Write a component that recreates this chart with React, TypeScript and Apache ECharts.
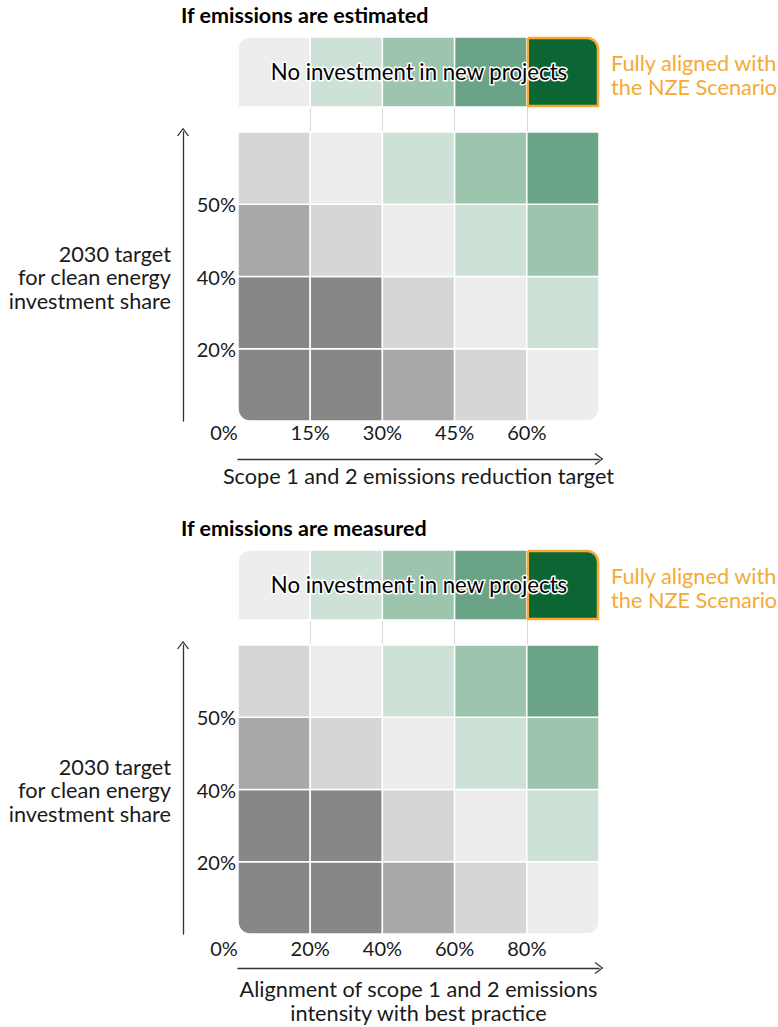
import React, { useEffect, useRef } from "react";
import * as echarts from "echarts";

// ---------- data ----------
const xTicksEstimated = ["0%", "15%", "30%", "45%", "60%"];
const xTicksMeasured = ["0%", "20%", "40%", "60%", "80%"];
const yTicks = ["", "20%", "40%", "50%"];
// colour level of each cell; rows listed bottom -> top, columns left -> right
const gridRow0 = [0, 0, 1, 2, 3];
const gridRow1 = [0, 0, 2, 3, 4];
const gridRow2 = [1, 2, 3, 4, 5];
const gridRow3 = [2, 3, 4, 5, 6];
const gridRows = [gridRow0, gridRow1, gridRow2, gridRow3];
// top strip: "No investment in new projects" ... "Fully aligned with the NZE Scenario"
const stripLevels = [3, 4, 5, 6, 7];
const nzeColumn = 4;

const panelTitles = ["If emissions are estimated", "If emissions are measured"];
const xAxisNames = [
  "Scope 1 and 2 emissions reduction target",
  "Alignment of scope 1 and 2 emissions\nintensity with best practice",
];
const yAxisTitle = "2030 target\nfor clean energy\ninvestment share";
const stripText = "No investment in new projects";
const nzeText = "Fully aligned with\nthe NZE Scenario";

// ---------- style ----------
const palette = ["#878787", "#A8A8A8", "#D6D6D6", "#EDEDED", "#CDE1D6", "#9DC5AE", "#6AA386", "#0B6634"];
const ORANGE = "#F5AA35";
const FONT = "Lato, 'Open Sans', sans-serif";
const TXT = 21.7;
const CHEVRON = "path://M0,8 L6,0 L12,8 L10.9,8.7 L6,2 L1.1,8.7 Z";

export default function App() {
  const ref = useRef<HTMLDivElement>(null);

  useEffect(() => {
    if (!ref.current) return;
    const chart = echarts.init(ref.current, null, { renderer: "svg" });

    const nCols = stripLevels.length;
    const nRows = gridRows.length;
    const mainData: number[][] = [];
    gridRows.forEach((row, r) => row.forEach((lvl, c) => mainData.push([c, r, lvl])));
    const stripData: number[][] = stripLevels.map((lvl, c) => [c, 0, lvl]);
    stripData.sort((a, b) => (a[0] === nzeColumn ? 1 : 0) - (b[0] === nzeColumn ? 1 : 0));

    const panels = [
      { dy: 0, xTicks: xTicksEstimated, labelMargin: 1, arrowOffset: 38, nameGap: 5 },
      { dy: 513, xTicks: xTicksMeasured, labelMargin: 4, arrowOffset: 34, nameGap: 9 },
    ];

    const grid: any[] = [];
    const xAxis: any[] = [];
    const yAxis: any[] = [];
    const series: any[] = [];
    const graphic: any[] = [];

    const L = 238;
    const W = 361;

    panels.forEach((p, pi) => {
      const gStrip = grid.length;
      grid.push({ left: L, top: 37 + p.dy, width: W, height: 70 });
      const gGap = grid.length;
      grid.push({ left: L, top: 107 + p.dy, width: W, height: 25 });
      const gMain = grid.length;
      grid.push({ left: L, top: 132 + p.dy, width: W, height: 289 });

      const hiddenX = (gi: number) => ({
        type: "value", gridIndex: gi, min: 0, max: nCols, interval: 1,
        axisLine: { show: false }, axisTick: { show: false }, axisLabel: { show: false }, splitLine: { show: false },
      });
      const hiddenY = (gi: number, max: number) => ({
        type: "value", gridIndex: gi, min: 0, max, interval: 1,
        axisLine: { show: false }, axisTick: { show: false }, axisLabel: { show: false }, splitLine: { show: false },
      });

      const xStrip = xAxis.length; xAxis.push(hiddenX(gStrip));
      const yStrip = yAxis.length; yAxis.push(hiddenY(gStrip, 1));
      xAxis.push({
        ...hiddenX(gGap),
        splitLine: { show: true, showMinLine: false, showMaxLine: false, lineStyle: { color: "#D9D9D9", width: 1 } },
      });
      yAxis.push(hiddenY(gGap, 1));
      const xMain = xAxis.length;
      xAxis.push({
        type: "value", gridIndex: gMain, min: 0, max: nCols, interval: 1,
        axisLine: { show: false }, axisTick: { show: false }, splitLine: { show: false },
        axisLabel: {
          show: true, margin: p.labelMargin, color: "#1a1a1a", fontSize: 20, fontFamily: FONT,
          showMaxLabel: false,
          formatter: (v: number) => {
            const i = Math.round(v);
            if (i === 0) return "{z|" + p.xTicks[0] + "}";
            return p.xTicks[i] ?? "";
          },
          rich: { z: { fontSize: 20, fontFamily: FONT, color: "#1a1a1a", padding: [0, 28, 0, 0] } },
        },
      });
      const yMain = yAxis.length;
      yAxis.push({
        type: "value", gridIndex: gMain, min: 0, max: nRows, interval: 1,
        axisLine: { show: false }, axisTick: { show: false }, splitLine: { show: false },
        axisLabel: {
          show: true, margin: 2, color: "#1a1a1a", fontSize: 20, fontFamily: FONT,
          formatter: (v: number) => yTicks[Math.round(v)] ?? "",
        },
      });
      xAxis.push({
        type: "value", gridIndex: gMain, min: 0, max: nCols, position: "bottom", offset: p.arrowOffset,
        axisLine: { show: true, onZero: false, lineStyle: { color: "#333", width: 1.3 }, symbol: ["none", CHEVRON], symbolSize: [12, 8.7] },
        axisTick: { show: false }, axisLabel: { show: false }, splitLine: { show: false },
        name: xAxisNames[pi], nameLocation: "middle", nameGap: p.nameGap,
        nameTextStyle: { fontSize: TXT, fontFamily: FONT, color: "#1a1a1a", lineHeight: 24, verticalAlign: "top" },
      });
      yAxis.push({
        type: "value", gridIndex: gMain, min: 0, max: nRows, position: "left", offset: 55,
        axisLine: { show: true, onZero: false, lineStyle: { color: "#333", width: 1.3 }, symbol: ["none", CHEVRON], symbolSize: [12, 8.7] },
        axisTick: { show: false }, axisLabel: { show: false }, splitLine: { show: false },
      });

      series.push({
        type: "custom", xAxisIndex: xMain, yAxisIndex: yMain, data: mainData,
        renderItem: (params: any, api: any) => {
          const c = api.value(0), r = api.value(1), lvl = api.value(2);
          const a = api.coord([c, r + 1]);
          const b = api.coord([c + 1, r]);
          const rad = [0, 0, c === nCols - 1 && r === 0 ? 12 : 0, c === 0 && r === 0 ? 12 : 0];
          return {
            type: "rect",
            shape: { x: a[0], y: a[1], width: b[0] - a[0], height: b[1] - a[1], r: rad },
            style: { fill: palette[lvl], stroke: "#fff", lineWidth: 1.5 },
          };
        },
      });
      series.push({
        type: "custom", xAxisIndex: xStrip, yAxisIndex: yStrip, data: stripData,
        renderItem: (params: any, api: any) => {
          const c = api.value(0), lvl = api.value(2);
          const a = api.coord([c, 1]);
          const b = api.coord([c + 1, 0]);
          const nze = c === nzeColumn;
          const rad = [c === 0 ? 12 : 0, c === nCols - 1 ? 12 : 0, 0, 0];
          return {
            type: "rect",
            z2: nze ? 10 : 0,
            shape: nze
              ? { x: a[0] + 1, y: a[1] + 1, width: b[0] - a[0] - 2, height: b[1] - a[1] - 2, r: [0, 11, 0, 0] }
              : { x: a[0], y: a[1], width: b[0] - a[0], height: b[1] - a[1], r: rad },
            style: nze
              ? { fill: palette[lvl], stroke: ORANGE, lineWidth: 2.5 }
              : { fill: palette[lvl], stroke: "#fff", lineWidth: 1.5 },
          };
        },
      });

      graphic.push(
        {
          type: "text", left: 181, top: 4 + p.dy,
          style: { text: panelTitles[pi], font: `bold 21.5px ${FONT}`, fill: "#000" },
        },
        {
          type: "text", x: 419, y: 71 + p.dy, z: 100,
          style: {
            text: stripText, font: `${TXT + 0.5}px ${FONT}`, fill: "#000", align: "center", verticalAlign: "middle",
            stroke: "#fff", lineWidth: 3,
          },
        },
        {
          type: "text", x: 611, y: 75 + p.dy,
          style: { text: nzeText, font: `${TXT}px ${FONT}`, fill: ORANGE, align: "left", verticalAlign: "middle", lineHeight: 24 },
        },
        {
          type: "text", x: 171, y: 277 + p.dy,
          style: { text: yAxisTitle, font: `${TXT}px ${FONT}`, fill: "#1a1a1a", align: "right", verticalAlign: "middle", lineHeight: 23.5 },
        }
      );
    });

    chart.setOption({
      animation: false,
      backgroundColor: "#fff",
      grid,
      xAxis,
      yAxis,
      series,
      graphic,
    });

    return () => chart.dispose();
  }, []);

  return (
    <div
      ref={ref}
      style={{ position: "absolute", left: 0, top: 0, width: 778, height: 1027 }}
    />
  );
}
